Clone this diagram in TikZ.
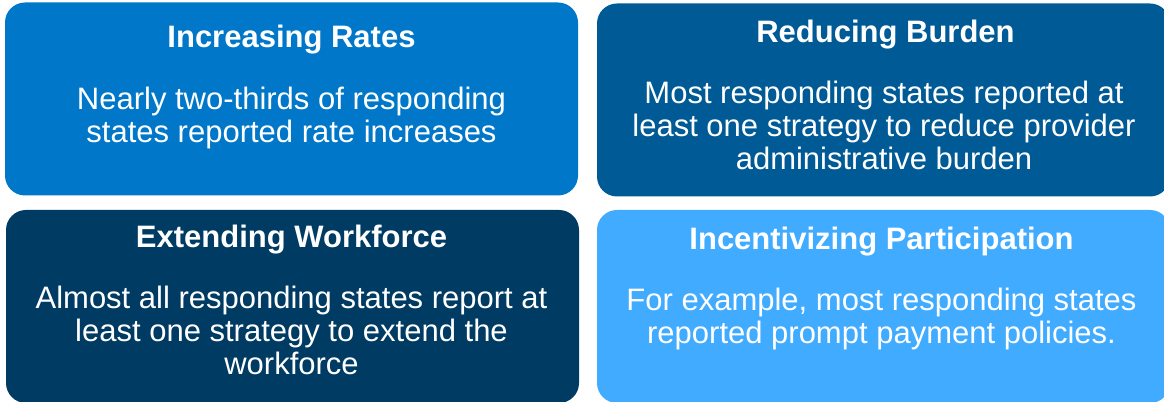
\documentclass[tikz,border=0pt]{standalone}
\usepackage{fontspec}
\setmainfont{Liberation Sans}
\usetikzlibrary{positioning}

\definecolor{rateblue}{HTML}{0077C8}
\definecolor{burdenblue}{HTML}{005A96}
\definecolor{workforceblue}{HTML}{003B63}
\definecolor{incentiveblue}{HTML}{40ABFF}

\tikzset{
  card/.style={rounded corners=15pt,inner sep=0pt,
    minimum width=429.75pt,minimum height=144.75pt},
  cardtitle/.style={text=white,inner sep=0pt,anchor=base,
    font=\bfseries\fontsize{23.25}{24.75}\selectfont},
  cardtext/.style={text=white,inner sep=0pt,anchor=base,align=center,
    font=\fontsize{23.25}{24.75}\selectfont}
}

\begin{document}
\begin{tikzpicture}[x=0.75pt,y=0.75pt]

\useasboundingbox (0,0) rectangle (1164,-402);

% the four cards
\node[card,fill=rateblue] (rates) at (291.5,-99.000000) {};
\node[card,fill=burdenblue] (burden) at (883.5,-100.000000) {};
\node[card,fill=workforceblue] (workforce) at (292.5,-306.500000) {};
\node[card,fill=incentiveblue] (incentive) at (883.5,-306.500000) {};

% titles
\node[cardtitle] (ratestitle) at (291.5,-48) {Increasing Rates};
\node[cardtitle] (burdentitle) at (885.5,-43) {Reducing Burden};
\node[cardtitle] (workforcetitle) at (291.5,-248) {Extending Workforce};
\node[cardtitle] (incentivetitle) at (881.5,-250) {Incentivizing Participation};

% texts (base = last line)
\node[cardtext] (ratestext) at (291.5,-143)
  {Nearly two-thirds of responding\\states reported rate increases};
\node[cardtext] (burdentext) at (884,-170)
  {Most responding states reported at\\least one strategy to reduce provider\\administrative burden};
\node[cardtext] (workforcetext) at (291.5,-375)
  {Almost all responding states report at\\least one strategy to extend the\\workforce};
\node[cardtext] (incentivetext) at (881.5,-344)
  {For example, most responding states\\reported prompt payment policies.};
\end{tikzpicture}
\end{document}
